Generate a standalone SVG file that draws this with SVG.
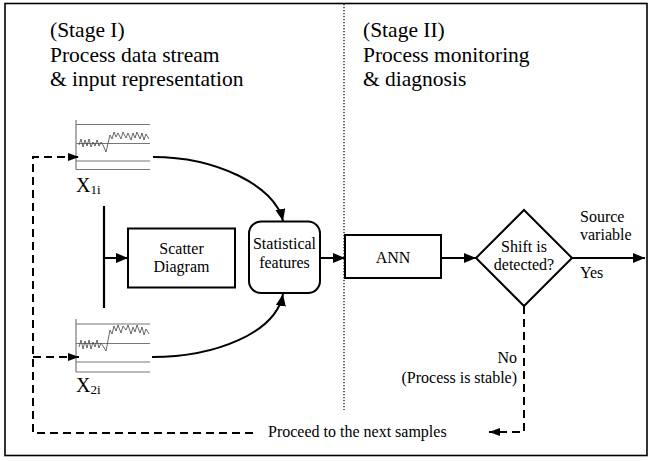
<svg xmlns="http://www.w3.org/2000/svg" width="652" height="461" viewBox="0 0 652 461">
<style>
.big{font-family:'Liberation Serif',serif;font-size:21.5px;fill:#000}
.med{font-family:'Liberation Serif',serif;font-size:16px;fill:#000}
.xl{font-family:'Liberation Serif',serif;font-size:20px;fill:#000}
.box{fill:#fff;stroke:#000;stroke-width:2}
.ln{fill:none;stroke:#000;stroke-width:2}
.dash{fill:none;stroke:#000;stroke-width:2;stroke-dasharray:8 5}
.grid{stroke:#777;stroke-width:1.2;fill:none}
.zig{stroke:#444;stroke-width:0.8;fill:none}
</style>
<defs>
<marker id="ah" markerUnits="userSpaceOnUse" markerWidth="13" markerHeight="11" refX="12" refY="5" orient="auto">
<path d="M0,0 L12,5 L0,10 z" fill="#000"/>
</marker>
<marker id="ahs" markerUnits="userSpaceOnUse" markerWidth="12" markerHeight="9" refX="11" refY="4" orient="auto">
<path d="M0,0 L11,4 L0,8 z" fill="#000"/>
</marker>
</defs>
<rect x="0" y="0" width="652" height="461" fill="#fff"/>
<rect x="5" y="3.5" width="642" height="452" fill="none" stroke="#000" stroke-width="1.6"/>
<line x1="344" y1="4" x2="344" y2="410" stroke="#000" stroke-width="1.2" stroke-dasharray="1.2 1.8"/>

<g id="stage1-title">
<text class="big" x="50" y="37">(Stage I)</text>
<text class="big" x="50" y="62">Process data stream</text>
<text class="big" x="50" y="86">&amp; input representation</text>
</g>
<g id="stage2-title">
<text class="big" x="363" y="37">(Stage II)</text>
<text class="big" x="363" y="62">Process monitoring</text>
<text class="big" x="363" y="86">&amp; diagnosis</text>
</g>

<g id="chart1">
<line class="grid" x1="76" y1="120" x2="76" y2="169.5"/>
<line class="grid" x1="76" y1="124.5" x2="150" y2="124.5"/>
<line class="grid" x1="76" y1="143.5" x2="150" y2="143.5"/>
<line class="grid" x1="76" y1="161" x2="150" y2="161"/>
<line class="grid" x1="76" y1="169.5" x2="150" y2="169.5"/>
<path class="zig" d="M79,145 L81,139 L83,147 L85,140 L87,146 L89,139 L91,147 L93,142 L95,146 L97,140 L99,146 L101,142 L103,145 L106,152 L110,135 L112,139 L114,132 L116,137 L118,133 L121,139 L123,132 L126,138 L128,133 L131,140 L133,133 L135,138 L137,132 L140,139 L142,133 L144,140 L146,134 L149,139"/>
<text class="xl" x="76" y="192">X<tspan style="font-size:13px" dy="2">1i</tspan></text>
</g>

<g id="chart2">
<line class="grid" x1="76" y1="319" x2="76" y2="372"/>
<line class="grid" x1="76" y1="324" x2="150" y2="324"/>
<line class="grid" x1="76" y1="343.5" x2="150" y2="343.5"/>
<line class="grid" x1="76" y1="362" x2="150" y2="362"/>
<line class="grid" x1="76" y1="372" x2="150" y2="372"/>
<path class="zig" d="M79,347 L81,340 L83,349 L85,341 L87,348 L89,340 L91,349 L93,342 L95,347 L97,340 L99,348 L101,343 L103,346 L106,351 L110,330 L112,334 L114,326 L116,331 L118,325 L121,333 L123,326 L126,330 L128,325 L131,334 L133,327 L135,332 L137,325 L140,333 L142,327 L144,335 L146,329 L149,334"/>
<text class="xl" x="76" y="392">X<tspan style="font-size:13px" dy="2">2i</tspan></text>
</g>

<g id="scatter">
<rect class="box" x="128" y="228.5" width="107" height="59"/>
<text class="med" x="181.5" y="254" text-anchor="middle">Scatter</text>
<text class="med" x="181.5" y="272" text-anchor="middle">Diagram</text>
</g>

<g id="stat">
<rect class="box" x="249" y="221.5" width="71" height="71.5" rx="12" ry="12"/>
<text class="med" x="284.5" y="249" text-anchor="middle">Statistical</text>
<text class="med" x="284.5" y="268" text-anchor="middle">features</text>
</g>

<g id="ann">
<rect class="box" x="345" y="235" width="96" height="43"/>
<text class="med" x="393" y="263" text-anchor="middle">ANN</text>
</g>

<g id="decision">
<path class="box" d="M524,210 L572,258 L524,306 L476,258 z"/>
<text class="med" x="524" y="252" text-anchor="middle">Shift is</text>
<text class="med" x="524" y="270" text-anchor="middle">detected?</text>
</g>

<g id="labels">
<text class="med" x="580" y="222">Source</text>
<text class="med" x="580" y="240">variable</text>
<text class="med" x="580" y="278">Yes</text>
<text class="med" x="517" y="363" text-anchor="end">No</text>
<text class="med" x="517" y="383" text-anchor="end">(Process is stable)</text>
<text class="med" x="268" y="437">Proceed to the next samples</text>
</g>

<g id="connectors">
<line x1="104" y1="206" x2="104" y2="308" stroke="#000" stroke-width="2.2"/>
<path class="ln" d="M104,258 L128,258" marker-end="url(#ah)"/>
<path class="ln" d="M153,157 C215,157 275,185 283,221" marker-end="url(#ah)"/>
<path class="ln" d="M152,357 C215,357 276,333 283,294" marker-end="url(#ah)"/>
<path class="ln" d="M320,258 L345,258" marker-end="url(#ah)"/>
<path class="ln" d="M441,258 L476,258" marker-end="url(#ah)"/>
<path class="ln" d="M572,258 L645,258" marker-end="url(#ah)"/>
<path class="dash" d="M524,306 L524,432 L489,432" marker-end="url(#ahs)"/>
<path class="dash" d="M253,433 L33,433 L33,157 L79,157" marker-end="url(#ahs)"/>
<path class="dash" d="M33,357 L79,357" marker-end="url(#ahs)"/>
</g>
</svg>
